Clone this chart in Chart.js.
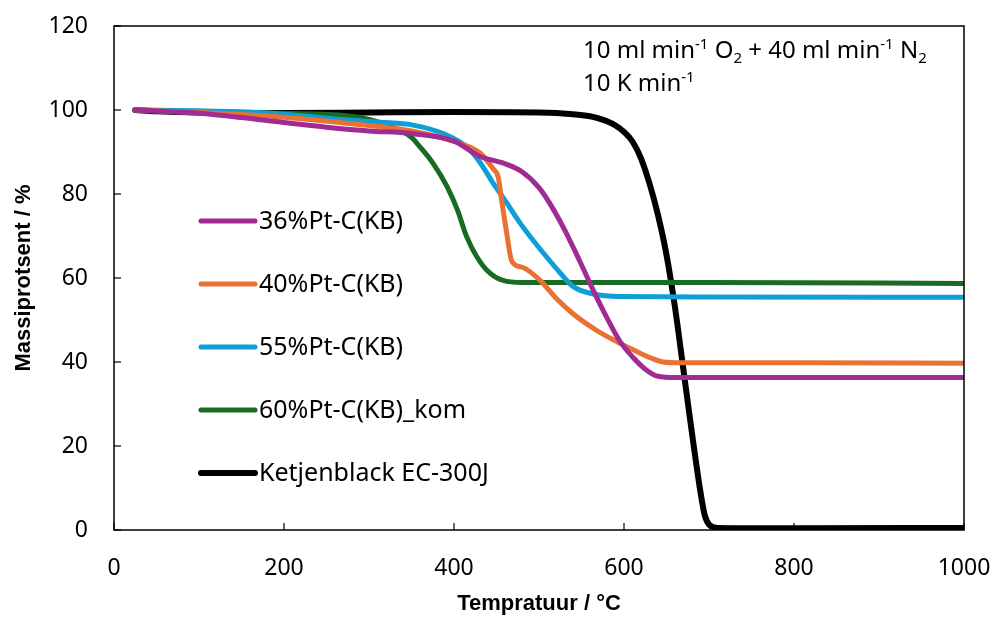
<!DOCTYPE html>
<html>
<head>
<meta charset="utf-8">
<script src="https://cdn.jsdelivr.net/npm/chart.js@4/dist/chart.umd.min.js"></script>
<style>
html,body{margin:0;padding:0;background:#fff;}
#wrap{width:994px;height:617px;position:relative;}
</style>
</head>
<body>
<div id="wrap"><canvas id="c" width="994" height="617"></canvas></div>
<script>
// Data (x = temperature °C, y = mass %)
const labels = ["36%Pt-C(KB)", "40%Pt-C(KB)", "55%Pt-C(KB)", "60%Pt-C(KB)_kom", "Ketjenblack EC-300J"];
const colors = ["#A02B93", "#E97132", "#0F9ED5", "#196B24", "#000000"];
const xTicks = [0, 200, 400, 600, 800, 1000];
const yTicks = [0, 20, 40, 60, 80, 100, 120];

const pt36 = [[25,100],[100,99.2],[150,98.2],[200,97],[250,95.9],[300,95],[350,94.4],[400,92.6],[430,89],[460,87.2],[480,85.3],[500,81.5],[515,77],[530,71.5],[548,64],[564,57],[580,50.5],[595,45],[611,41],[625,38.3],[640,36.6],[660,36.3],[700,36.3],[850,36.3],[1000,36.3]];
const pt40 = [[25,100],[100,99.4],[200,98.3],[300,96.3],[350,95],[400,92.5],[431,89.7],[446,86],[452,84],[456,78.6],[462,70.7],[468,64],[481,62.5],[501,59.5],[521,55],[540,51.5],[568,47.5],[592,44.8],[611,42.9],[631,41],[646,40],[666,39.8],[800,39.8],[1000,39.7]];
const pt55 = [[25,100],[100,99.8],[157,99.5],[200,99],[275,97.6],[313,97.1],[352,96.4],[392,94],[415,91.2],[431,87.4],[446,82.6],[462,77.9],[478,73],[493,69],[509,65],[525,61.2],[540,58],[564,56.2],[595,55.6],[700,55.5],[1000,55.4]];
const pt60 = [[25,100],[100,99.6],[200,99.2],[265,98.8],[295,98],[313,97],[336,95.2],[350,93.5],[360,91.2],[375,87.4],[392,81.7],[404,76.2],[415,69.8],[427,65],[442,61.2],[462,59.2],[489,58.9],[700,58.9],[1000,58.7]];
const kb = [[25,100],[50,99.7],[100,99.4],[200,99.3],[300,99.4],[400,99.5],[500,99.4],[540,99],[560,98.5],[570,98],[580,97.3],[590,96.3],[600,94.8],[610,92.5],[620,88.5],[630,82.5],[640,75],[650,65.5],[660,53],[670,38],[680,23],[690,9],[695,3.5],[700,1.3],[710,0.5],[800,0.4],[1000,0.5]];

const series = [pt36, pt40, pt55, pt60, kb];
const FONT = "'Noto Sans', sans-serif";
const TFONT = "'Liberation Sans', Arial, sans-serif";

const datasets = series.map((s, i) => ({
  label: labels[i],
  data: s.map(p => ({x: p[0], y: p[1]})),
  borderColor: colors[i],
  backgroundColor: colors[i],
  borderWidth: i === 4 ? 6 : 5,
  pointRadius: 0,
  showLine: true,
  fill: false,
  cubicInterpolationMode: 'monotone',
  borderCapStyle: 'round',
  borderJoinStyle: 'round'
}));

const framePlugin = {
  id: 'frame',
  afterDraw(chart) {
    const {ctx, chartArea: a, scales} = chart;
    ctx.save();
    ctx.strokeStyle = '#000';
    ctx.lineWidth = 1.5;
    ctx.strokeRect(a.left, a.top, a.right - a.left, a.bottom - a.top);
    ctx.lineWidth = 1.2;
    xTicks.forEach(v => {
      const px = scales.x.getPixelForValue(v);
      ctx.beginPath(); ctx.moveTo(px, a.bottom); ctx.lineTo(px, a.bottom - 7); ctx.stroke();
    });
    yTicks.forEach(v => {
      const py = scales.y.getPixelForValue(v);
      ctx.beginPath(); ctx.moveTo(a.left, py); ctx.lineTo(a.left + 7, py); ctx.stroke();
    });
    // legend inside plot
    const lx = a.left + 87, ly0 = a.top + 195, step = 63;
    chart.data.datasets.forEach((d, i) => {
      const y = ly0 + i * step;
      ctx.strokeStyle = d.borderColor;
      ctx.lineWidth = i === 4 ? 6 : 5;
      ctx.lineCap = 'round';
      ctx.beginPath(); ctx.moveTo(lx, y); ctx.lineTo(lx + 54, y); ctx.stroke();
      ctx.fillStyle = '#000';
      ctx.font = "25px " + FONT;
      ctx.textBaseline = 'middle';
      ctx.textAlign = 'left';
      ctx.fillText(d.label, lx + 58, y + 1);
    });
    // annotation
    const segs1 = [["10 ml min",0],["-1",1],[" O",0],["2",2],[" + 40 ml min",0],["-1",1],[" N",0],["2",2]];
    const segs2 = [["10 K min",0],["-1",1]];
    const drawSegs = (segs, x, y) => {
      ctx.textBaseline = 'alphabetic';
      segs.forEach(([t, k]) => {
        if (k === 0) { ctx.font = "24px " + FONT; ctx.fillText(t, x, y); }
        else if (k === 1) { ctx.font = "15px " + FONT; ctx.fillText(t, x, y - 9); }
        else { ctx.font = "15px " + FONT; ctx.fillText(t, x, y + 5); }
        x += ctx.measureText(t).width;
      });
    };
    ctx.fillStyle = '#000';
    drawSegs(segs1, 583, 58);
    drawSegs(segs2, 583, 91);
    ctx.restore();
  }
};

new Chart(document.getElementById('c'), {
  type: 'scatter',
  data: {datasets},
  options: {
    responsive: false,
    animation: false,
    layout: {padding: {top: 26, right: 30, left: 0, bottom: 0}},
    plugins: {legend: {display: false}, tooltip: {enabled: false}},
    scales: {
      x: {
        type: 'linear', min: 0, max: 1000,
        afterBuildTicks(s) { s.ticks = xTicks.map(v => ({value: v})); },
        afterFit(s) { s.height = 87; s.paddingLeft = 0; s.paddingRight = 0; },
        grid: {display: false, drawTicks: false},
        border: {display: false},
        ticks: {color: '#000', font: {size: 23, family: FONT}, padding: 25, maxRotation: 0, callback: v => String(v)},
        title: {display: true, text: 'Tempratuur / °C', color: '#000', font: {size: 22, weight: 'bold', family: TFONT}, padding: {top: 4, bottom: 0}}
      },
      y: {
        type: 'linear', min: 0, max: 120,
        afterBuildTicks(s) { s.ticks = yTicks.map(v => ({value: v})); },
        afterFit(s) { s.width = 114; s.paddingTop = 0; s.paddingBottom = 0; },
        grid: {display: false, drawTicks: false},
        border: {display: false},
        ticks: {color: '#000', font: {size: 23, family: FONT}, padding: 26, callback: v => String(v)},
        title: {display: true, text: 'Massiprotsent / %', color: '#000', font: {size: 22, weight: 'bold', family: TFONT}, padding: {top: 11, bottom: 0}}
      }
    }
  },
  plugins: [framePlugin]
});
</script>
</body>
</html>
